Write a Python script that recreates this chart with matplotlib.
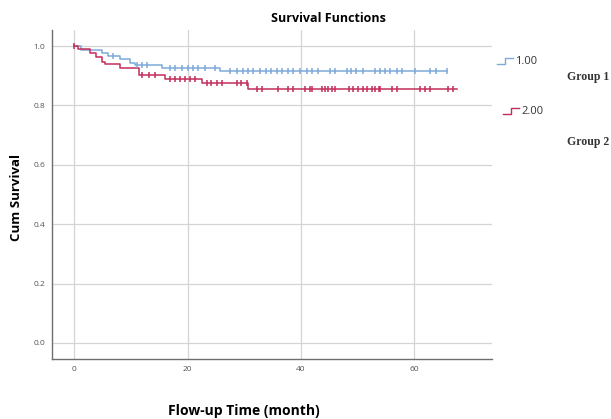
import numpy as np
import matplotlib
matplotlib.use('Agg')
import matplotlib.pyplot as plt
from matplotlib.lines import Line2D

# Kaplan-Meier step data
g1_times = [0, 1.2, 4.8, 5.9, 8.0, 9.8, 10.7, 15.5, 25.7]
g1_surv = [1.0, 0.987, 0.975, 0.966, 0.955, 0.944, 0.936, 0.927, 0.916]
g1_end = 65.7
g1_censor = [6.9, 11.0, 11.9, 12.9, 16.9, 17.8, 19.0, 20.1, 21.0, 21.9, 23.1, 24.8,
             27.5, 28.7, 29.8, 30.7, 31.6, 32.8, 33.9, 34.8, 35.7, 36.6, 37.8, 38.6,
             39.8, 41.0, 41.9, 43.1, 45.1, 46.0, 48.1, 48.9, 49.8, 51.0, 53.1, 53.9,
             54.8, 55.7, 56.9, 57.8, 60.1, 62.8, 63.9, 65.7]

g2_times = [0, 0.65, 2.7, 3.9, 4.8, 5.4, 8.0, 11.5, 16.0, 22.5, 30.7]
g2_surv = [1.0, 0.989, 0.977, 0.964, 0.947, 0.938, 0.925, 0.902, 0.889, 0.874, 0.855]
g2_end = 67.5
g2_censor = [0, 12.0, 13.1, 14.2, 16.9, 17.8, 18.7, 19.5, 20.4, 21.3, 23.4, 24.2,
             25.1, 26.0, 28.7, 29.5, 30.4, 32.2, 33.1, 36.0, 37.8, 38.6, 40.7, 41.6,
             41.9, 43.7, 44.2, 44.8, 45.4, 46.0, 48.4, 49.2, 50.1, 51.0, 51.6, 52.5,
             53.1, 53.7, 54.0, 56.0, 56.9, 61.0, 61.9, 62.8, 66.0, 66.9]

group_labels = ['1.00', '2.00']
group_names = ['Group 1', 'Group 2']
x_ticks = [0, 20, 40, 60]
y_ticks = [0.0, 0.2, 0.4, 0.6, 0.8, 1.0]

blue = '#7fa9da'
red = '#c22d5a'

plt.rcParams['font.family'] = ['Open Sans', 'DejaVu Sans']

fig = plt.figure(figsize=(6.11, 4.19), dpi=100)
ax = fig.add_axes([0.0851, 0.1432, 0.7199, 0.7852])


def draw_group(times, surv, end, censor, color):
    t = np.array(times + [end])
    s = np.array(surv + [surv[-1]])
    ax.step(t, s, where='post', color=color, lw=1.1, zorder=3)
    idx = np.searchsorted(times, censor, side='right') - 1
    cy = np.array(surv)[idx]
    ax.plot(censor, cy, ls='none', marker='|', ms=4, mew=1.1, color=color, zorder=4)


draw_group(g1_times, g1_surv, g1_end, g1_censor, blue)
draw_group(g2_times, g2_surv, g2_end, g2_censor, red)

ax.set_xlim(-3.94, 73.7)
ax.set_ylim(-0.054, 1.054)
ax.set_xticks(x_ticks)
ax.set_yticks(y_ticks)
ax.set_yticklabels([f'{v:.1f}' for v in y_ticks])
ax.tick_params(length=0, labelsize=6, colors='#555555', pad=5)
ax.grid(True, color='#d4d4d4', lw=0.9)
ax.set_axisbelow(True)
for side in ['top', 'right']:
    ax.spines[side].set_visible(False)
for side in ['left', 'bottom']:
    ax.spines[side].set_color('#6e6e6e')
    ax.spines[side].set_linewidth(1.0)

fig.text(328 / 611, 1 - 18 / 419, 'Survival Functions', ha='center', va='center',
         fontsize=9, fontweight='bold')
fig.text(17 / 611, 1 - 197 / 419, 'Cum Survival', ha='center', va='center',
         rotation=90, fontsize=9.5, fontweight='bold')
fig.text(244 / 611, 1 - 411 / 419, 'Flow-up Time (month)', ha='center', va='center',
         fontsize=10, fontweight='bold')

# legend: small step icons with labels, plus the group names at the right edge
for (lx, ly), lab, col in zip([(497, 61), (503, 111)], group_labels, [blue, red]):
    xs = np.array([lx, lx + 8, lx + 8, lx + 16]) / 611
    ys = 1 - np.array([ly + 3, ly + 3, ly - 3, ly - 3]) / 419
    fig.add_artist(Line2D(xs, ys, color=col, lw=1.0))
    fig.text((lx + 18) / 611, 1 - ly / 419, lab, ha='left', va='center', fontsize=8,
             color='#333333')
for gy, name in zip([77, 142], group_names):
    fig.text(567 / 611, 1 - gy / 419, name, ha='left', va='center', fontsize=8.5,
             fontweight='bold', family=['Liberation Serif'], color='#333333')

fig.savefig('out.png', dpi=100)
